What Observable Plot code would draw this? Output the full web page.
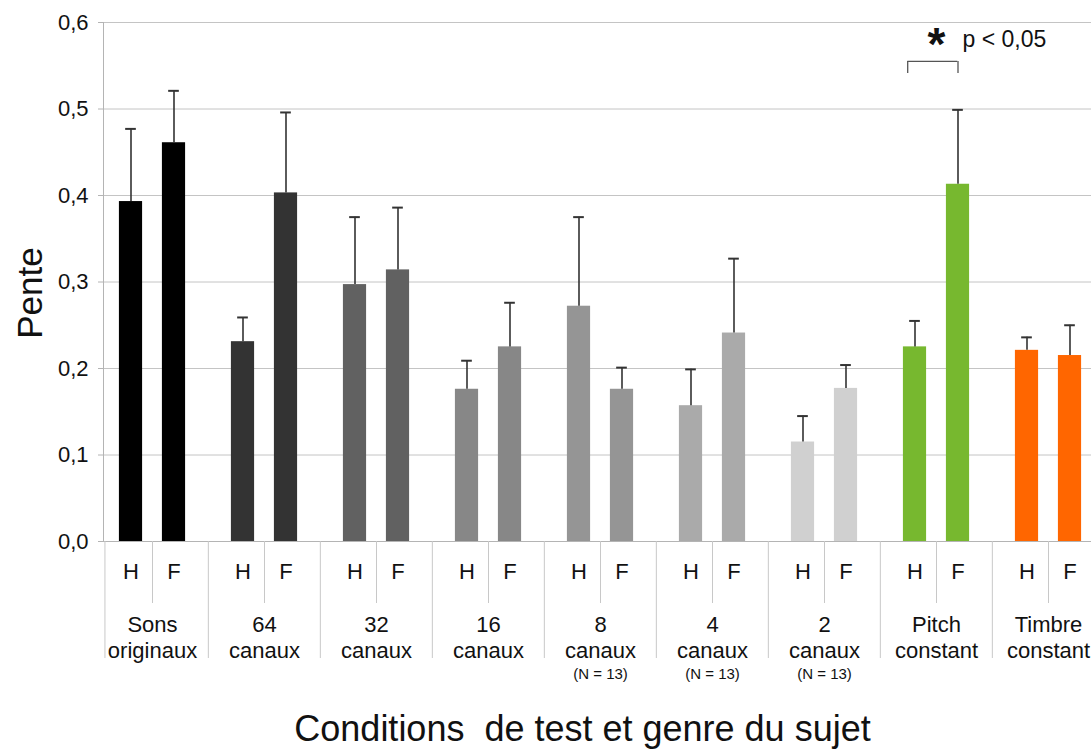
<!DOCTYPE html>
<html>
<head>
<meta charset="utf-8">
<script src="https://cdn.jsdelivr.net/npm/d3@7"></script>
<script src="https://cdn.jsdelivr.net/npm/@observablehq/plot@0.6"></script>
<style>
  html, body { margin: 0; padding: 0; background: #fff; overflow: hidden; }
  #chart svg { display: block; max-width: none; }
</style>
</head>
<body>
<div id="chart"></div>
<script>
// ---- data ----
const groups = ["Sons originaux", "64 canaux", "32 canaux", "16 canaux", "8 canaux", "4 canaux", "2 canaux", "Pitch constant", "Timbre constant"];
const groupLabels = ["Sons\noriginaux", "64\ncanaux", "32\ncanaux", "16\ncanaux", "8\ncanaux", "4\ncanaux", "2\ncanaux", "Pitch\nconstant", "Timbre\nconstant"];
const groupNotes = ["", "", "", "", "(N = 13)", "(N = 13)", "(N = 13)", "", ""];
const groupColors = ["#000000", "#333333", "#616161", "#878787", "#959595", "#aaaaaa", "#d0d0d0", "#77b82f", "#ff6600"];
const sexLabels = ["H", "F"];
const valH = [0.393, 0.231, 0.297, 0.176, 0.272, 0.157, 0.115, 0.225, 0.221];
const errH = [0.084, 0.028, 0.078, 0.033, 0.103, 0.042, 0.030, 0.030, 0.015];
const valF = [0.461, 0.403, 0.314, 0.225, 0.176, 0.241, 0.177, 0.413, 0.215];
const errF = [0.060, 0.093, 0.072, 0.051, 0.025, 0.086, 0.027, 0.086, 0.035];
const yTicks = [0, 0.1, 0.2, 0.3, 0.4, 0.5, 0.6];
const yLabel = "Pente";
const xTitle = "Conditions\u00a0 de test et genre du sujet";
const sigGroup = "Pitch constant";
const sigText = "p < 0,05";
const bracketY = [0.541, 0.555];

// ---- layout ----
const W = 1091, H = 749;
const mL = 103, mT = 22, mB = 208;
const xRange = [94.4, 1105.3];
const bw = (xRange[1] - xRange[0]) / groups.length;
const off = 21.5;          // bar center offset from group center
const barW = 23.5;
const barIns = (bw - barW) / 2;
const capW = 11;
const capIns = (bw - capW) / 2;
const fs = 22;

const rowsH = groups.map((g, i) => ({group: g, value: valH[i], err: errH[i], color: groupColors[i]}));
const rowsF = groups.map((g, i) => ({group: g, value: valF[i], err: errF[i], color: groupColors[i]}));
const fmt = d => d.toFixed(1).replace(".", ",");
const gridC = "#c4c4c4", sepC = "#c8c8c8", errC = "#333333";

const errorMarks = (rows, dx) => [
  Plot.barY(rows, {x: "group", y: "value", fill: "color", dx, insetLeft: barIns, insetRight: barIns}),
  Plot.ruleX(rows, {x: "group", y1: "value", y2: d => d.value + d.err, dx, stroke: errC, strokeWidth: 1.6}),
  Plot.tickY(rows, {x: "group", y: d => d.value + d.err, dx, insetLeft: capIns, insetRight: capIns, stroke: errC, strokeWidth: 2})
];

const chart = Plot.plot({
  width: W, height: H,
  marginLeft: mL, marginRight: 0, marginTop: mT, marginBottom: mB,
  style: {fontFamily: "'Liberation Sans', Arial, sans-serif", fontSize: fs + "px", background: "#fff", color: "#111"},
  x: {type: "band", domain: groups, range: xRange, padding: 0, axis: null, label: null},
  y: {domain: [0, 0.6], axis: null, label: null},
  marks: [
    Plot.gridY(yTicks.slice(1), {stroke: gridC, strokeOpacity: 1}),
    Plot.frame({anchor: "left", stroke: "#b4b4b4"}),
    Plot.ruleY([0], {stroke: "#b4b4b4"}),
    Plot.axisY({ticks: yTicks, tickSize: 5, tickPadding: 10, tickFormat: fmt, stroke: "#b4b4b4", fill: "#111", fontSize: fs, label: null}),
    // group separators
    Plot.axisX({ticks: groups.slice(1), tickSize: 117, tickFormat: () => "", dx: -bw / 2, stroke: sepC, label: null}),
    Plot.axisX({ticks: groups.slice(0, 1), tickSize: 117, tickFormat: () => "", dx: -bw / 2 + (mL - xRange[0]), stroke: sepC, label: null}),
    // H / F separators
    Plot.axisX({ticks: groups, tickSize: 62, tickFormat: () => "", stroke: sepC, label: null}),
    ...errorMarks(rowsH, -off),
    ...errorMarks(rowsF, off),
    // H / F labels
    Plot.text(groups, {x: d => d, text: () => sexLabels[0], frameAnchor: "bottom", dy: 37, dx: -off, fontSize: fs, fill: "#111"}),
    Plot.text(groups, {x: d => d, text: () => sexLabels[1], frameAnchor: "bottom", dy: 37, dx: off, fontSize: fs, fill: "#111"}),
    // group labels
    Plot.text(groups, {x: d => d, text: (d, i) => groupLabels[i], frameAnchor: "bottom", lineAnchor: "top", dy: 72, lineHeight: 1.19, fontSize: fs, fill: "#111"}),
    Plot.text(groups, {x: d => d, text: (d, i) => groupNotes[i], frameAnchor: "bottom", dy: 137, fontSize: 15, fill: "#111"}),
    // significance annotation
    Plot.text([sigGroup], {x: d => d, text: () => "*", frameAnchor: "top", dy: 5, fontSize: 46, fontWeight: "bold", fill: "#111"}),
    Plot.text([sigGroup], {x: d => d, text: () => sigText, frameAnchor: "top", dy: 8, dx: 26, textAnchor: "start", fontSize: 23, fill: "#111"}),
    Plot.ruleX([sigGroup], {x: d => d, y1: bracketY[0], y2: bracketY[1], dx: -28.8, stroke: "#555", strokeWidth: 1.3}),
    Plot.ruleX([sigGroup], {x: d => d, y1: bracketY[0], y2: bracketY[1], dx: off, stroke: "#555", strokeWidth: 1.3}),
    Plot.tickY([sigGroup], {x: d => d, y: bracketY[1], insetLeft: bw / 2 - 28.8, insetRight: bw / 2 - off, stroke: "#555", strokeWidth: 1.3}),
    // axis titles
    Plot.text([yLabel], {text: d => d, frameAnchor: "left", textAnchor: "middle", rotate: -90, dx: -73, dy: 11, fontSize: 35, fill: "#111"}),
    Plot.text([xTitle], {text: d => d, frameAnchor: "bottom", dy: 199, dx: -15, fontSize: 36, fill: "#111"})
  ]
});
document.getElementById("chart").appendChild(chart);
</script>
</body>
</html>
